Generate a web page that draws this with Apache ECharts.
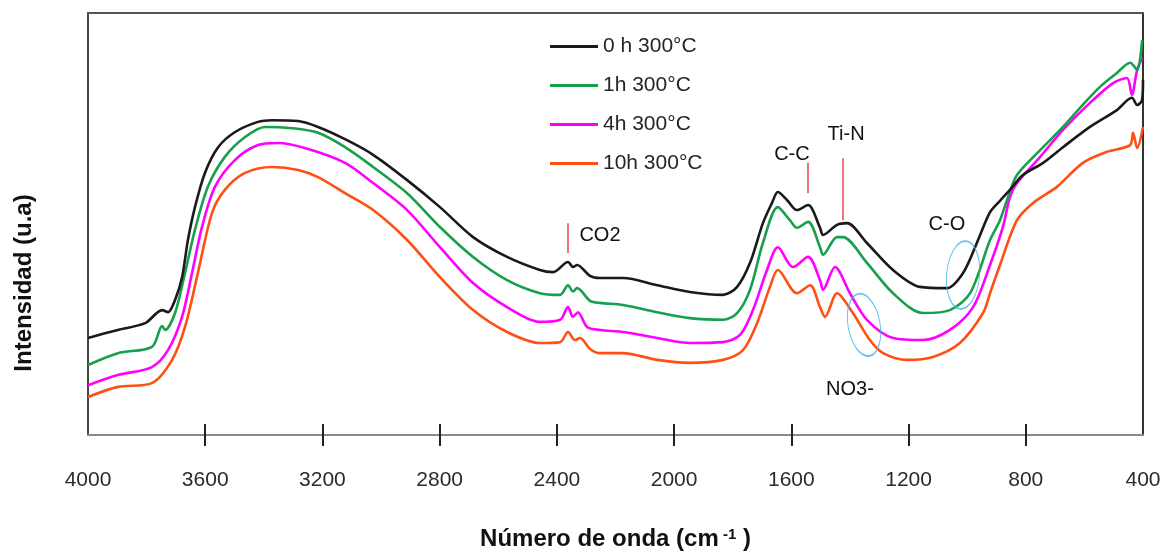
<!DOCTYPE html>
<html>
<head>
<meta charset="utf-8">
<title>Espectros FTIR</title>
<script src="https://cdn.jsdelivr.net/npm/echarts@6/dist/echarts.min.js"></script>
<style>
  html, body { margin: 0; padding: 0; background: #fff; }
  #chart { width: 1163px; height: 552px; }
</style>
</head>
<body>
<div id="chart"></div>
<script>
// Wavenumber ticks (cm^-1), axis runs from 4000 down to 400
const tickValues = [4000, 3600, 3200, 2800, 2400, 2000, 1600, 1200, 800, 400];
// tick marks only between the frame edges
const innerTicks = [3600, 3200, 2800, 2400, 2000, 1600, 1200, 800];

const seriesNames = ['0 h 300°C', '1h 300°C', '4h 300°C', '10h 300°C'];

// [wavenumber, intensity (u.a)] pairs for each heat treatment
const spectrum0h = [
  [4000,23.0],[3898,24.9],[3805,26.5],[3747,29.6],[3727,29.1],[3703,32.0],[3679,37.4],[3659,46.2],
  [3635,54.0],[3601,62.1],[3556,68.2],[3498,71.8],[3420,74.2],[3372,74.6],[3283,74.4],[3215,73.0],
  [3123,70.1],[3027,66.4],[2911,60.4],[2799,54.0],[2686,46.9],[2570,42.2],[2458,39.1],[2413,38.6],
  [2362,41.0],[2345,39.8],[2331,40.3],[2287,37.7],[2253,37.2],[2174,37.2],[2058,35.5],[1946,33.9],
  [1833,33.2],[1785,35.1],[1741,40.8],[1697,50.2],[1666,55.0],[1646,57.6],[1615,55.7],[1581,53.3],
  [1543,54.5],[1502,49.1],[1492,47.4],[1444,49.8],[1410,50.2],[1342,45.5],[1253,39.1],[1161,35.1],
  [1069,34.8],[1014,38.4],[967,45.5],[922,52.8],[888,55.5],[854,58.1],[810,61.6],[741,64.5],
  [673,68.2],[581,73.0],[489,77.0],[438,79.9],[420,78.2],[403,79.4],[400,84.1]
];
const spectrum1h = [
  [4000,16.6],[3898,19.4],[3782,20.9],[3747,25.8],[3737,24.9],[3703,28.9],[3669,38.4],[3635,48.6],
  [3591,58.8],[3533,65.9],[3464,70.6],[3396,73.0],[3304,72.7],[3215,71.6],[3123,68.2],[3027,63.5],
  [2911,57.3],[2799,49.3],[2686,42.2],[2570,36.7],[2458,33.6],[2389,33.2],[2362,35.5],[2345,34.0],
  [2331,34.8],[2287,31.8],[2253,31.3],[2174,30.8],[2058,29.1],[1946,27.7],[1833,27.3],[1785,28.9],
  [1741,34.4],[1697,45.5],[1646,54.0],[1605,50.9],[1581,49.1],[1543,50.5],[1502,44.5],[1492,42.7],
  [1444,46.9],[1424,46.9],[1342,40.8],[1253,33.6],[1151,28.9],[1059,29.6],[990,33.6],[922,46.2],
  [888,50.9],[864,55.7],[830,61.6],[751,67.5],[673,73.0],[615,77.5],[547,82.5],[489,85.8],
  [444,88.2],[420,86.5],[403,93.6]
];
const spectrum4h = [
  [4000,11.8],[3898,14.2],[3782,16.1],[3727,20.1],[3679,28.0],[3645,38.4],[3611,49.3],[3567,58.8],
  [3498,65.2],[3420,68.7],[3352,69.2],[3260,68.0],[3123,64.5],[3027,59.7],[2911,53.3],[2799,44.5],
  [2686,36.0],[2570,30.3],[2458,26.8],[2389,27.3],[2362,30.3],[2345,28.0],[2328,29.1],[2297,25.6],
  [2253,24.9],[2174,24.4],[2058,23.0],[1946,21.8],[1833,22.0],[1775,23.7],[1731,29.6],[1683,39.1],
  [1646,44.5],[1594,39.8],[1543,42.2],[1502,36.7],[1492,34.4],[1451,39.8],[1400,33.6],[1342,27.3],
  [1253,23.0],[1151,22.5],[1059,24.9],[980,30.3],[922,40.3],[878,49.3],[854,56.4],[830,59.7],
  [751,65.9],[673,72.3],[581,78.7],[502,83.4],[455,84.6],[438,80.6],[420,86.5],[403,89.3]
];
const spectrum10h = [
  [4000,9.0],[3898,11.4],[3782,12.3],[3713,17.8],[3669,25.6],[3625,38.4],[3577,52.6],[3533,58.1],
  [3464,62.1],[3372,63.5],[3283,62.8],[3215,61.1],[3123,57.3],[3027,53.3],[2911,46.2],[2799,37.4],
  [2686,29.6],[2570,24.4],[2458,21.8],[2389,22.0],[2362,24.4],[2338,22.5],[2321,23.0],[2287,20.4],
  [2253,19.4],[2174,19.4],[2058,17.8],[1946,17.1],[1833,17.8],[1765,20.1],[1717,26.5],[1673,35.1],
  [1646,39.1],[1581,33.6],[1536,35.5],[1502,30.3],[1485,28.0],[1444,33.6],[1390,28.9],[1332,22.5],
  [1287,19.4],[1205,17.8],[1117,18.5],[1025,21.8],[946,28.9],[922,33.6],[888,40.3],[830,50.9],
  [775,55.0],[694,58.8],[605,64.5],[523,67.1],[444,68.7],[434,71.6],[420,68.0],[400,73.0]
];

// Band assignments: label text and where it sits [wavenumber, intensity]
const bandLabels = ['CO2', 'C-C', 'Ti-N', 'C-O', 'NO3-'];
const bandLabelPos = [[2253, 47.2], [1598, 66.4], [1413, 71.1], [1069, 49.8], [1400, 10.9]];
// Red marker bars: [wavenumber, lower intensity, upper intensity]
const bandMarkers = [[2362, 43.1, 50.2], [1543, 57.3, 64.5], [1424, 50.9, 65.6]];
// Highlighted regions (ellipses): centre [wavenumber, intensity]
const bandRegions = [[1014, 37.9], [1352, 26.1]];

const colors = ['#1a1a1a', '#17a04b', '#ff00ff', '#ff4f14'];
const spectra = [spectrum0h, spectrum1h, spectrum4h, spectrum10h];

const chart = echarts.init(document.getElementById('chart'), null, { renderer: 'canvas' });

const FONT = 'Liberation Sans';

const lineSeries = spectra.map((d, i) => ({
  name: seriesNames[i],
  type: 'line',
  data: d,
  xAxisIndex: 0,
  yAxisIndex: 0,
  showSymbol: false,
  symbol: 'none',
  smooth: 0.3,
  lineStyle: { color: colors[i], width: 2.6 },
  itemStyle: { color: colors[i] },
  z: 5 - i,
  silent: true
}));

// marker bars hang off the first spectrum as markLines
lineSeries[0].markLine = {
  silent: true,
  symbol: ['none', 'none'],
  label: { show: false },
  lineStyle: { color: '#e8505b', width: 1.6, type: 'solid' },
  data: bandMarkers.map(m => [{ coord: [m[0], m[1]] }, { coord: [m[0], m[2]] }])
};

const tickStyle = { color: '#222', width: 2 };

const option = {
  animation: false,
  backgroundColor: '#fff',
  textStyle: { fontFamily: FONT },
  grid: { left: 88, right: 20, top: 13, bottom: 117, containLabel: false, outerBoundsMode: 'none' },
  legend: {
    data: seriesNames,
    orient: 'vertical',
    left: 550,
    top: 36,
    padding: 0,
    itemGap: 18,
    itemWidth: 48,
    itemHeight: 3,
    icon: 'rect',
    textStyle: { fontFamily: FONT, fontSize: 21, color: '#262626' }
  },
  xAxis: [
    {
      type: 'value', position: 'bottom', inverse: true,
      min: 400, max: 4000, interval: 400,
      axisLine: { show: true, lineStyle: { color: '#8a8a8a', width: 2 } },
      axisTick: { show: true, inside: false, length: 11, customValues: innerTicks, lineStyle: tickStyle },
      axisLabel: {
        show: true, customValues: tickValues,
        formatter: v => String(v),
        fontFamily: FONT, fontSize: 21, color: '#2b2b2b', margin: 35
      },
      splitLine: { show: false },
      name: '{t|Número de onda (cm}{s| -1}{t| )}',
      nameLocation: 'middle',
      nameGap: 92,
      nameTextStyle: {
        rich: {
          t: { fontFamily: FONT, fontSize: 24, fontWeight: 'bold', color: '#111' },
          s: { fontFamily: FONT, fontSize: 15, fontWeight: 'bold', color: '#111', verticalAlign: 'top', padding: [0, 0, 10, 0] }
        }
      }
    },
    {
      type: 'value', position: 'bottom', inverse: true,
      min: 400, max: 4000, interval: 400,
      axisLine: { show: false },
      axisTick: { show: true, inside: true, length: 11, customValues: innerTicks, lineStyle: tickStyle },
      axisLabel: { show: false },
      splitLine: { show: false }
    },
    {
      type: 'value', position: 'top', inverse: true,
      min: 400, max: 4000,
      axisLine: { show: true, lineStyle: { color: '#555', width: 2 } },
      axisTick: { show: false }, axisLabel: { show: false }, splitLine: { show: false }
    }
  ],
  yAxis: [
    {
      type: 'value', position: 'left', min: 0, max: 100,
      axisLine: { show: true, lineStyle: { color: '#444', width: 2 } },
      axisTick: { show: false }, axisLabel: { show: false }, splitLine: { show: false }
    },
    {
      type: 'value', position: 'right', min: 0, max: 100,
      axisLine: { show: true, lineStyle: { color: '#333', width: 2 } },
      axisTick: { show: false }, axisLabel: { show: false }, splitLine: { show: false }
    }
  ],
  graphic: [
    {
      type: 'text',
      x: 24, y: 283,
      rotation: Math.PI / 2,
      style: {
        text: 'Intensidad (u.a)',
        fontFamily: FONT, fontSize: 24, fontWeight: 'bold', fill: '#111',
        align: 'center', verticalAlign: 'middle'
      }
    }
  ],
  series: lineSeries.concat([
    {
      name: 'bandas',
      type: 'scatter',
      silent: true,
      data: bandLabels.map((t, i) => ({ name: t, value: bandLabelPos[i] })),
      symbolSize: 1,
      itemStyle: { color: 'rgba(0,0,0,0)' },
      label: {
        show: true, position: 'inside', formatter: '{b}',
        fontFamily: FONT, fontSize: 20, color: '#111', opacity: 1
      },
      z: 10
    },
    {
      name: 'regiones',
      type: 'scatter',
      silent: true,
      data: bandRegions.map((c, i) => ({
        value: c,
        symbolSize: i === 0 ? [33, 68] : [32, 63],
        symbolRotate: i === 0 ? -5 : 10
      })),
      symbol: 'circle',
      itemStyle: { color: 'rgba(0,0,0,0)', borderColor: '#3fb4e8', borderWidth: 1.3 },
      z: 10
    }
  ])
};

chart.setOption(option);
</script>
</body>
</html>
